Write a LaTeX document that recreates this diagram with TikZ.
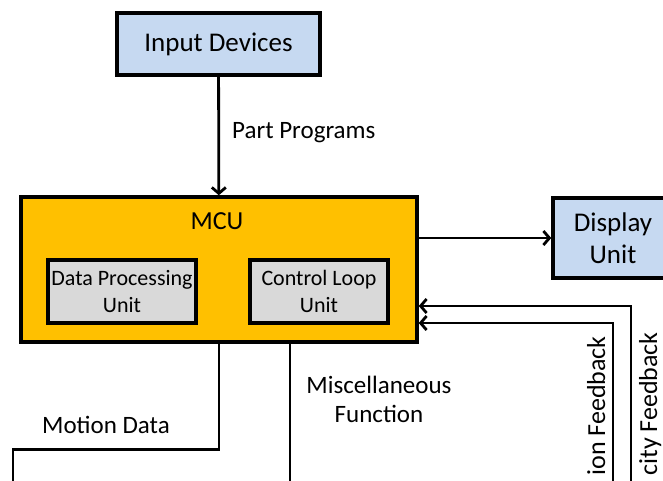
\documentclass[tikz,border=0pt]{standalone}
\usepackage{fontspec}
\setmainfont{Carlito}
\usetikzlibrary{arrows.meta}
\definecolor{boxblue}{HTML}{C6D9F1}
\definecolor{mcuorange}{HTML}{FFC000}
\definecolor{unitgray}{HTML}{D9D9D9}
\begin{document}
\begin{tikzpicture}
  [x=1pt,y=-1pt,
   box/.style={draw=black,line width=3.5pt,align=center,inner sep=0pt},
   lbl/.style={inner sep=0pt,align=center,font=\fontsize{25}{29}\selectfont},
   arr/.style={line width=2.8pt,-{Straight Barb[length=6pt,width=14pt]}},
   wire/.style={line width=2.8pt}]
  \useasboundingbox (0,0) rectangle (663,480);
  \clip (0,0) rectangle (663,480);

  \node[box,fill=boxblue,minimum width=203pt,minimum height=62pt,font=\fontsize{27}{30}\selectfont] (in) at (218.5,44) {Input Devices};
  \node[box,fill=mcuorange,minimum width=396pt,minimum height=145pt] (mcu) at (219,269.5) {};
  \node[lbl,font=\fontsize{26}{30}\selectfont] (mcut) at (217,221) {MCU};
  \node[box,fill=unitgray,minimum width=148pt,minimum height=63pt,font=\fontsize{22}{27}\selectfont] (dpu) at (122,291.5) {Data Processing\\Unit};
  \node[box,fill=unitgray,minimum width=138pt,minimum height=63pt,font=\fontsize{22}{27}\selectfont] (clu) at (319,291.5) {Control Loop\\Unit};
  \node[box,fill=boxblue,minimum width=120pt,minimum height=80pt,font=\fontsize{27}{32}\selectfont] (disp) at (613,238) {Display\\Unit};

  \node[lbl,anchor=west] (pp) at (232,133) {Part Programs};
  \node[lbl] (md) at (106,425) {Motion Data};
  \node[lbl] (mf) at (379,399) {Miscellaneous\\Function};
  \node[lbl,font=\fontsize{26}{30}\selectfont,rotate=90,anchor=base east] (pf) at (605,336) {ion Feedback};
  \node[lbl,font=\fontsize{26}{30}\selectfont,rotate=90,anchor=base east] (vf) at (657,332) {city Feedback};

  \coordinate (velend) at (631,490);
  \coordinate (posend) at (613,490);
  \coordinate (mdend) at (13,490);
  \coordinate (miscend) at (290,490);

  \draw[arr] (in) -- (mcu);
  \draw[arr] (mcu.east |- disp.west) -- (disp.west);
  \foreach \from/\y in {velend/306, posend/323}
    \draw[arr] (\from) |- (mcu.east |- 0,\y);
  \draw[wire] (mcu.south) -- ++(0,106) -| (mdend);
  \draw[wire] (mcu.south -| miscend) -- (miscend);

\end{tikzpicture}
\end{document}
